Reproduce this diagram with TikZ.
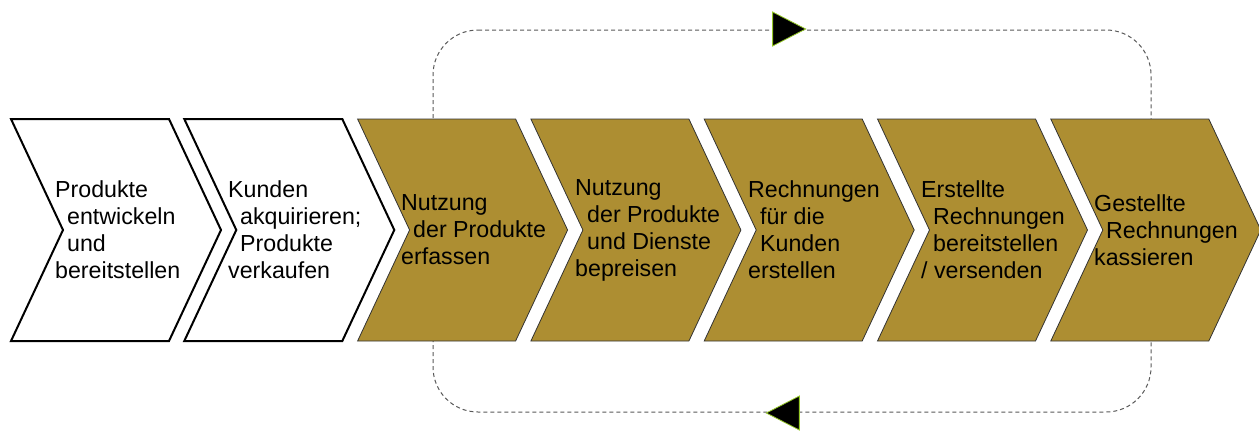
\documentclass[tikz,border=0pt]{standalone}
\usepackage{fontspec}
\setmainfont{Liberation Sans}
\usetikzlibrary{shapes.geometric}
\definecolor{gold}{RGB}{173,142,50}
\definecolor{tipgreen}{RGB}{150,200,40}
\newcommand{\ind}{\hspace*{12pt}}

\begin{document}
\begin{tikzpicture}[x=1pt, y=-1pt,
  chevw/.style={draw=black, line width=2pt, fill=white},
  chevg/.style={draw=black!80, line width=0.8pt, fill=gold},
  lbl/.style={anchor=west, align=left, inner sep=0pt, font=\fontsize{23.2}{27}\selectfont},
  loopline/.style={draw=black!65, line width=1pt, dash pattern=on 4pt off 3pt, rounded corners=45pt},
  tiphead/.style={isosceles triangle, isosceles triangle stretches, minimum width=34pt, minimum height=33pt, inner sep=0pt, fill=black, draw=tipgreen, line width=0.8pt}]
\useasboundingbox (0,0) rectangle (1259,432);

% feedback loop (runs behind the chain)
\coordinate (lt) at (433,30);
\coordinate (rt) at (1151,30);
\coordinate (rb) at (1151,412);
\coordinate (lb) at (433,412);
\draw[loopline] (lt) -- (rt) -- (rb) -- (lb) -- cycle;

% value chain
\draw[chevw] (11,119) -- ++(158,0) -- ++(52,111) -- ++(-52,111) -- ++(-158,0) -- ++(52,-111) -- cycle;
\draw[chevw] (184.3,119) -- ++(158,0) -- ++(52,111) -- ++(-52,111) -- ++(-158,0) -- ++(52,-111) -- cycle;
\draw[chevg] (357.6,119) -- ++(158,0) -- ++(52,111) -- ++(-52,111) -- ++(-158,0) -- ++(52,-111) -- cycle;
\draw[chevg] (530.9,119) -- ++(158,0) -- ++(52,111) -- ++(-52,111) -- ++(-158,0) -- ++(52,-111) -- cycle;
\draw[chevg] (704.2,119) -- ++(158,0) -- ++(52,111) -- ++(-52,111) -- ++(-158,0) -- ++(52,-111) -- cycle;
\draw[chevg] (877.5,119) -- ++(158,0) -- ++(52,111) -- ++(-52,111) -- ++(-158,0) -- ++(52,-111) -- cycle;
\draw[chevg] (1050.8,119) -- ++(158,0) -- ++(52,111) -- ++(-52,111) -- ++(-158,0) -- ++(52,-111) -- cycle;

% step labels
\node[lbl] (entw) at (55,230) {Produkte\\\ind entwickeln\\\ind und\\bereitstellen};
\node[lbl] (akqu) at (228,230) {Kunden\\\ind akquirieren;\\\ind Produkte\\verkaufen};
\node[lbl] (erf) at (401,230) {Nutzung\\\ind der Produkte\\erfassen};
\node[lbl] (bepr) at (575,230) {Nutzung\\\ind der Produkte\\\ind und Dienste\\bepreisen};
\node[lbl] (erst) at (748,230) {Rechnungen\\\ind f\"ur die\\\ind Kunden\\erstellen};
\node[lbl] (vers) at (921,230) {Erstellte\\\ind Rechnungen\\\ind bereitstellen\\/ versenden};
\node[lbl] (kass) at (1094,230) {Gestellte\\\ind Rechnungen\\kassieren};

% direction marks on the loop
\node[tiphead] (fwd) at (783,29) {};
\node[tiphead, shape border rotate=180] (back) at (789,413) {};
\end{tikzpicture}
\end{document}
